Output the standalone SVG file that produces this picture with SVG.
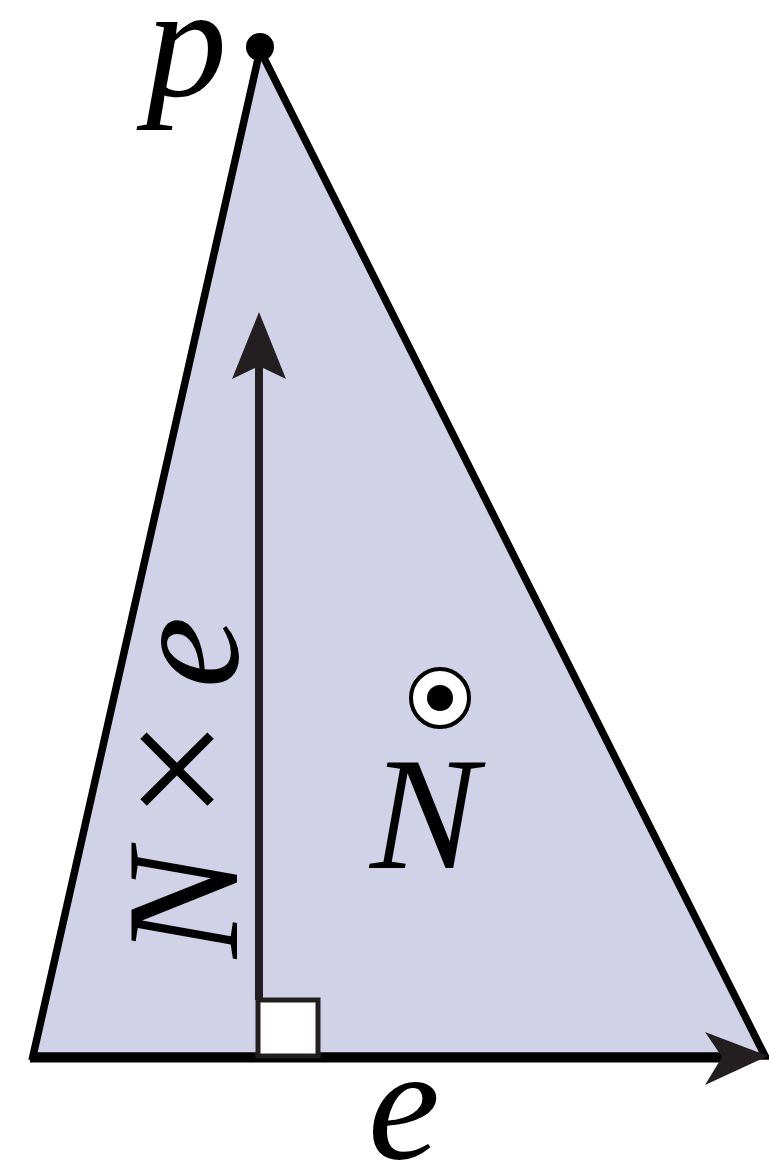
<svg xmlns="http://www.w3.org/2000/svg" width="769" height="1168" viewBox="0 0 769 1168">
<style>
text{font-family:'Liberation Serif','Times New Roman',serif;font-size:162px;fill:#000}
.it{font-style:italic}
</style>
<rect width="769" height="1168" fill="#fff"/>
<g id="triangle">
<polygon points="260,50 33,1056 765,1056" fill="#d1d2e8" stroke="#000" stroke-width="7.5" stroke-linejoin="miter"/>
</g>
<g id="apex">
<circle cx="260" cy="47" r="14" fill="#000"/>
</g>
<g id="connectors">
<line x1="259" y1="1000" x2="259" y2="360" stroke="#231f20" stroke-width="8"/>
<polygon points="259,312 286,379 259,366 232,379" fill="#231f20"/>
<line x1="30" y1="1058" x2="725" y2="1058" stroke="#000" stroke-width="9"/>
<polygon points="768,1056 705,1032 722,1057 705,1085" fill="#231f20"/>
</g>
<g id="right-angle">
<rect x="258" y="1000" width="60" height="56" fill="#fff" stroke="#231f20" stroke-width="5"/>
</g>
<g id="normal-symbol">
<circle cx="440" cy="698" r="29" fill="#fff" stroke="#000" stroke-width="4"/>
<circle cx="440" cy="698" r="13" fill="#000"/>
</g>
<g id="labels">
<text class="it" x="146" y="96">p</text>
<text class="it" x="370" y="868">N</text>
<text class="it" x="368" y="1158">e</text>
<text transform="translate(237,958) rotate(-90)"><tspan class="it">N</tspan><tspan dx="30" style="font-size:180px">×</tspan><tspan class="it" dx="30">e</tspan></text>
</g>
</svg>
